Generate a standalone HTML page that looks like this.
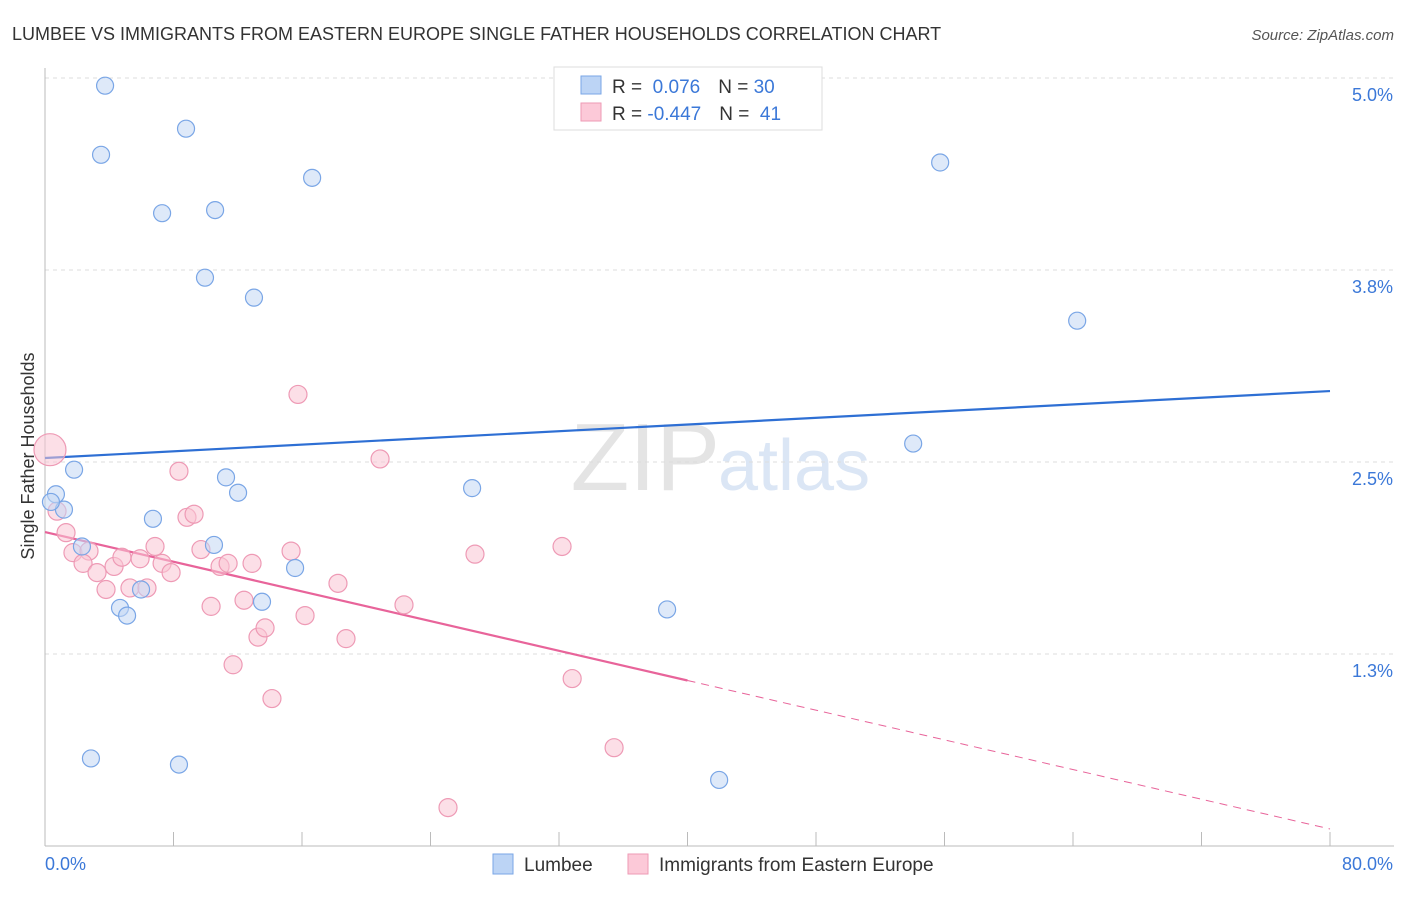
<!DOCTYPE html>
<html><head><meta charset="utf-8"><style>
body{margin:0;background:#fff;font-family:"Liberation Sans",sans-serif;}
svg text{font-family:"Liberation Sans",sans-serif;}
</style></head><body>
<svg id="chart" width="1406" height="892">
<text x="12" y="40" font-size="18" fill="#333">LUMBEE VS IMMIGRANTS FROM EASTERN EUROPE SINGLE FATHER HOUSEHOLDS CORRELATION CHART</text>
<text x="1394" y="40" font-size="15" fill="#555" font-style="italic" text-anchor="end">Source: ZipAtlas.com</text>
<text x="720" y="490" font-size="96" fill="#e4e4e4" text-anchor="end" font-family="Liberation Serif">ZIP</text>
<text x="718" y="490" font-size="72" fill="#dbe6f5">atlas</text>
<g id="grid"></g><g id="axes"></g><g id="lines"></g><g id="pts"></g>
<text transform="translate(34,456) rotate(-90)" font-size="18" fill="#333" text-anchor="middle">Single Father Households</text>
<text x="45" y="870" font-size="18" fill="#3b78d8">0.0%</text>
<text x="1393" y="870" font-size="18" fill="#3b78d8" text-anchor="end">80.0%</text>
<g>
<rect x="554" y="67" width="268" height="63" fill="#fff" stroke="#ddd"/>
<rect x="581" y="76" width="20" height="18" fill="#bcd4f5" stroke="#7aa6e6"/>
<rect x="581" y="103" width="20" height="18" fill="#fcc9d8" stroke="#ee9ab5"/>
<text x="612" y="93" font-size="19" fill="#333">R = <tspan fill="#3b78d8">&#160;0.076</tspan><tspan dx="18">N = </tspan><tspan fill="#3b78d8">30</tspan></text>
<text x="612" y="120" font-size="19" fill="#333">R = <tspan fill="#3b78d8">-0.447</tspan><tspan dx="18">N = </tspan><tspan fill="#3b78d8">&#160;41</tspan></text>
</g>
<g>
<rect x="493" y="854" width="20" height="20" fill="#bcd4f5" stroke="#7aa6e6"/>
<text x="524" y="871" font-size="19" fill="#333">Lumbee</text>
<rect x="628" y="854" width="20" height="20" fill="#fcc9d8" stroke="#ee9ab5"/>
<text x="659" y="871" font-size="19" fill="#333">Immigrants from Eastern Europe</text>
</g>
</svg>
<script>
const yTicks=[1.25,2.5,3.75,5.0];
const yTickLabels=["1.3%","2.5%","3.8%","5.0%"];
const xTicks=[0,8,16,24,32,40,48,56,64,72,80];
const lumbeeX=[3.74,3.49,8.78,16.63,7.29,10.59,9.96,13.01,55.73,64.26,54.05,1.81,0.68,1.18,0.37,6.72,11.27,12.02,26.59,2.30,10.52,15.57,5.98,4.67,5.11,13.51,38.73,2.86,8.34,41.97];
const lumbeeY=[4.95,4.50,4.67,4.35,4.12,4.14,3.70,3.57,4.45,3.42,2.62,2.45,2.29,2.19,2.24,2.13,2.40,2.30,2.33,1.95,1.96,1.81,1.67,1.55,1.50,1.59,1.54,0.57,0.53,0.43];
const eeX=[0.31,15.75,20.86,8.34,0.75,1.31,1.74,2.74,2.37,3.24,3.80,4.30,4.79,5.29,5.92,6.35,6.85,7.29,7.85,8.84,9.28,9.71,10.34,10.90,11.40,11.71,12.39,12.89,13.26,13.70,14.13,15.32,16.19,18.24,18.74,22.35,26.77,32.19,32.82,35.43,25.09];
const eeY=[2.58,2.94,2.52,2.44,2.18,2.04,1.91,1.92,1.84,1.78,1.67,1.82,1.88,1.68,1.87,1.68,1.95,1.84,1.78,2.14,2.16,1.93,1.56,1.82,1.84,1.18,1.60,1.84,1.36,1.42,0.96,1.92,1.50,1.71,1.35,1.57,1.90,1.95,1.09,0.64,0.25];
const eeR=[16,9,9,9,9,9,9,9,9,9,9,9,9,9,9,9,9,9,9,9,9,9,9,9,9,9,9,9,9,9,9,9,9,9,9,9,9,9,9,9,9];
const lumbeeTrend=[2.526,2.962];
const eeTrend=[2.044,0.111];
const eeSolidEnd=40;
const X=v=>45+v/80*1285, Y=v=>846-v*153.6;
const NS="http://www.w3.org/2000/svg";
function mk(t,a,p){const e=document.createElementNS(NS,t);for(const k in a)e.setAttribute(k,a[k]);document.getElementById(p).appendChild(e);return e;}
yTicks.forEach((v,i)=>{
 const g=mk('line',{x1:45,x2:1394,y1:Y(v),y2:Y(v),stroke:'#ddd','stroke-dasharray':'4,4'},'grid');
 
 
 const t=mk('text',{x:1393,y:Y(v)+23,'font-size':18,fill:'#3b78d8','text-anchor':'end'},'axes');
 t.textContent=yTickLabels[i];
 
 
});
const ax=mk('line',{x1:45,x2:45,y1:68,y2:846,stroke:'#bbb'},'axes');


const bx=mk('line',{x1:45,x2:1394,y1:846,y2:846,stroke:'#bbb'},'axes');


xTicks.forEach(v=>{
 const t=mk('line',{x1:X(v),x2:X(v),y1:832,y2:846,stroke:'#bbb'},'axes');
 
 
});
function pts(xs,ys,fill,stroke,name,rs){
 xs.forEach((x,i)=>{
  const c=mk('circle',{cx:X(x),cy:Y(ys[i]),r:rs?rs[i]:8.5,fill:fill,stroke:stroke,'stroke-width':1.2,'fill-opacity':0.55},'pts');
  
  
 });
}
pts(eeX,eeY,'#f9c4d4','#ee9ab5','eastern-europe-point',eeR);
pts(lumbeeX,lumbeeY,'#c3d7f4','#7aa6e6','lumbee-point');
const l1=mk('line',{x1:X(0),y1:Y(lumbeeTrend[0]),x2:X(80),y2:Y(lumbeeTrend[1]),stroke:'#2e6fd4','stroke-width':2.2},'lines');


const ey=x=>eeTrend[0]+(eeTrend[1]-eeTrend[0])*x/80;
const l2=mk('line',{x1:X(0),y1:Y(ey(0)),x2:X(eeSolidEnd),y2:Y(ey(eeSolidEnd)),stroke:'#e8649a','stroke-width':2.2},'lines');


const l3=mk('line',{x1:X(eeSolidEnd),y1:Y(ey(eeSolidEnd)),x2:X(80),y2:Y(ey(80)),stroke:'#e8649a','stroke-width':1,'stroke-dasharray':'8,6'},'lines');


</script>
</body></html>
